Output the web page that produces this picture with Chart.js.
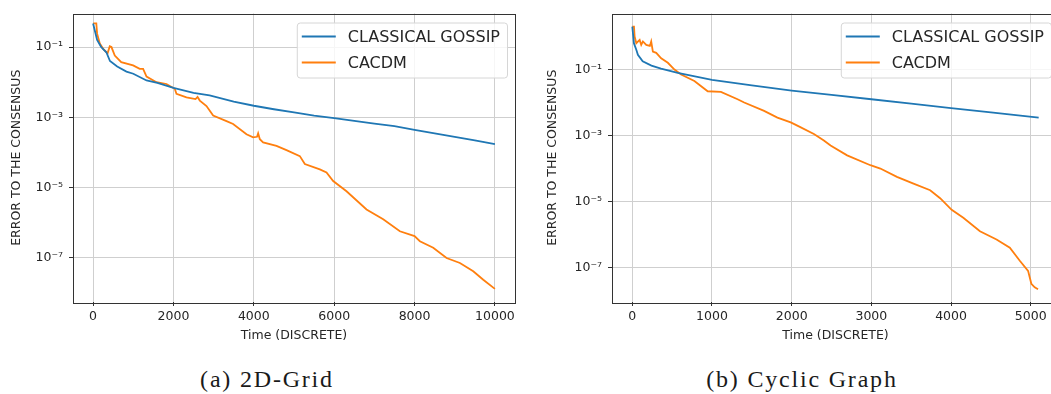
<!DOCTYPE html>
<html>
<head>
<meta charset="utf-8">
<script src="https://cdn.jsdelivr.net/npm/chart.js@4.4.1/dist/chart.umd.min.js"></script>
<style>
  body { margin: 0; width: 1051px; height: 394px; overflow: hidden; background: #fff; position: relative; }
  .panel { position: absolute; top: 0; }
  .cap { position: absolute; width: 400px; text-align: center; top: 367px; line-height: 24px;
         font-family: "Liberation Serif", serif; font-size: 24px; letter-spacing: 1.8px; color: #1a1a1a; }
</style>
</head>
<body>
<div class="panel" style="left:0;width:530px;height:345px"><canvas id="gridChart" width="530" height="345"></canvas></div>
<div class="panel" style="left:530px;width:544px;height:345px"><canvas id="cyclicChart" width="544" height="345"></canvas></div>
<div class="cap" style="left:67px">(a) 2D-Grid</div>
<div class="cap" style="left:602px">(b) Cyclic Graph</div>

<script>
// series labels
const seriesNames = ['CLASSICAL GOSSIP', 'CACDM'];
const seriesColors = ['#1f77b4', '#ff7f0e'];

// (a) 2D-Grid
const gridGossipT = [0, 100, 200, 330, 420, 600, 830, 1000, 1330, 1600, 2000, 2500, 2900, 3500, 4000, 4500, 5000, 5500, 6000, 6500, 7000, 7500, 8000, 8500, 9000, 9500, 10000];
const gridGossipErr = [4.7e-1, 1.6e-1, 1.0e-1, 7.1e-2, 4.0e-2, 2.8e-2, 2.0e-2, 1.74e-2, 1.12e-2, 9.5e-3, 6.9e-3, 5.0e-3, 4.2e-3, 2.8e-3, 2.14e-3, 1.7e-3, 1.38e-3, 1.12e-3, 9.5e-4, 7.9e-4, 6.6e-4, 5.6e-4, 4.4e-4, 3.5e-4, 2.8e-4, 2.2e-4, 1.74e-4];
const gridCacdmT = [0, 80, 100, 167, 250, 330, 360, 415, 457, 540, 700, 996, 1160, 1245, 1330, 1577, 1826, 2033, 2075, 2324, 2550, 2600, 2656, 2822, 2988, 3320, 3485, 3817, 3983, 4080, 4108, 4150, 4232, 4564, 4813, 5145, 5270, 5643, 5809, 5975, 6307, 6805, 7220, 7635, 8000, 8133, 8465, 8797, 9129, 9461, 9710, 10000];
const gridCacdmErr = [4.7e-1, 4.7e-1, 2.4e-1, 1.26e-1, 8.9e-2, 7.2e-2, 6.6e-2, 1.05e-1, 1.0e-1, 5.75e-2, 3.7e-2, 3.0e-2, 2.4e-2, 2.4e-2, 1.45e-2, 1.0e-2, 8.9e-3, 6.5e-3, 4.7e-3, 3.7e-3, 3.3e-3, 3.8e-3, 3.0e-3, 2.1e-3, 1.12e-3, 7.8e-4, 6.5e-4, 3.3e-4, 2.7e-4, 2.8e-4, 3.5e-4, 2.4e-4, 1.95e-4, 1.55e-4, 1.17e-4, 7.9e-5, 4.7e-5, 3.3e-5, 2.7e-5, 1.55e-5, 7.9e-6, 2.4e-6, 1.26e-6, 5.75e-7, 4.2e-7, 3.0e-7, 1.95e-7, 1.0e-7, 7.2e-8, 4.2e-8, 2.4e-8, 1.32e-8];

// (b) Cyclic Graph
const cyclicGossipT = [0, 20, 50, 70, 130, 240, 360, 570, 1000, 1500, 2000, 2500, 3000, 3500, 4000, 4500, 5100];
const cyclicGossipErr = [2.0, 6.3e-1, 4.0e-1, 2.8e-1, 1.78e-1, 1.32e-1, 1.07e-1, 7.9e-2, 4.9e-2, 3.3e-2, 2.3e-2, 1.7e-2, 1.26e-2, 9.3e-3, 6.8e-3, 5.0e-3, 3.5e-3];
const cyclicCacdmT = [0, 21, 29, 50, 92, 112, 133, 175, 220, 237, 258, 300, 362, 446, 529, 612, 779, 946, 1112, 1321, 1404, 1654, 1821, 1988, 2071, 2279, 2404, 2488, 2696, 2988, 3113, 3321, 3529, 3738, 3863, 4008, 4154, 4363, 4571, 4738, 4863, 4967, 5008, 5050, 5092];
const cyclicCacdmErr = [2.0, 2.0, 1.0, 6.3e-1, 7.9e-1, 5.6e-1, 7.1e-1, 5.6e-1, 5.2e-1, 7.1e-1, 3.5e-1, 3.2e-1, 2.2e-1, 1.6e-1, 1.0e-1, 7.1e-2, 4.5e-2, 2.2e-2, 2.1e-2, 1.26e-2, 1.0e-2, 5.6e-3, 3.5e-3, 2.5e-3, 2.0e-3, 1.12e-3, 7.1e-4, 5.0e-4, 2.5e-4, 1.26e-4, 1.0e-4, 5.6e-5, 3.5e-5, 2.2e-5, 1.26e-5, 5.6e-6, 3.2e-6, 1.26e-6, 7.1e-7, 4.0e-7, 1.6e-7, 7.9e-8, 3.2e-8, 2.5e-8, 2.2e-8];

// ticks
const yTicks = [1e-1, 1e-3, 1e-5, 1e-7];
const yTickLabels = ['10\u207B\u00B9', '10\u207B\u00B3', '10\u207B\u2075', '10\u207B\u2077'];
const gridXTicks = [0, 2000, 4000, 6000, 8000, 10000];
const cyclicXTicks = [0, 1000, 2000, 3000, 4000, 5000];

const FONT = '"DejaVu Sans", sans-serif';
const TEXT = '#262626';

const pts = (xs, ys) => xs.map((x, i) => ({ x: x, y: ys[i] }));

// four spines like matplotlib
const frame = {
  id: 'frame',
  afterDatasetsDraw(chart) {
    const a = chart.chartArea, ctx = chart.ctx;
    ctx.save();
    ctx.strokeStyle = '#333';
    ctx.lineWidth = 1;
    ctx.strokeRect(Math.round(a.left) + 0.5, Math.round(a.top) + 0.5, Math.round(a.right - a.left), Math.round(a.bottom - a.top));
    ctx.restore();
  }
};

// legend box in the upper right corner of the axes
const boxLegend = {
  id: 'boxLegend',
  afterDraw(chart) {
    const a = chart.chartArea, ctx = chart.ctx;
    const sets = chart.data.datasets;
    ctx.save();
    ctx.font = '16px ' + FONT;
    const tw = Math.max(...sets.map(d => ctx.measureText(d.label).width));
    const w = 5 + 34 + 12 + tw + 7, h = 55;
    const x = a.right - 8 - w, y = a.top + 9;
    ctx.beginPath();
    ctx.roundRect(x + 0.5, y + 0.5, w, h, 3);
    ctx.fillStyle = 'rgba(255,255,255,0.8)';
    ctx.fill();
    ctx.strokeStyle = '#d6d6d6';
    ctx.lineWidth = 1;
    ctx.stroke();
    sets.forEach((d, i) => {
      const cy = y + 14 + i * 26;
      ctx.strokeStyle = d.borderColor;
      ctx.lineWidth = 2;
      ctx.beginPath();
      ctx.moveTo(x + 5, cy);
      ctx.lineTo(x + 39, cy);
      ctx.stroke();
      ctx.fillStyle = TEXT;
      ctx.textBaseline = 'middle';
      ctx.fillText(d.label, x + 51, cy + 1);
    });
    ctx.restore();
  }
};

function makeChart(id, gT, gE, cT, cE, xTicks, xMin, xMax, yMin, yMax, yWidth, titlePad) {
  return new Chart(document.getElementById(id), {
    type: 'line',
    data: {
      datasets: [
        { label: seriesNames[0], data: pts(gT, gE), borderColor: seriesColors[0] },
        { label: seriesNames[1], data: pts(cT, cE), borderColor: seriesColors[1] }
      ]
    },
    options: {
      responsive: false,
      animation: false,
      events: [],
      layout: { padding: { top: 10, right: 15, left: 0, bottom: 0 } },
      elements: { point: { radius: 0 }, line: { borderWidth: 1.8, tension: 0 } },
      plugins: { legend: { display: false }, tooltip: { enabled: false } },
      scales: {
        x: {
          type: 'linear', min: xMin, max: xMax,
          afterBuildTicks: s => { s.ticks = xTicks.map(v => ({ value: v })); },
          afterFit: s => { s.height = 43; },
          grid: { color: '#cfcfcf', lineWidth: 1, drawTicks: true, tickLength: 4, tickColor: '#333' },
          border: { display: false },
          ticks: { color: TEXT, font: { family: FONT, size: 12.5 }, padding: 3, maxRotation: 0, callback: v => String(v) },
          title: { display: true, text: 'Time (DISCRETE)', color: TEXT, font: { family: FONT, size: 12.5 }, padding: { top: 0, bottom: 2 } }
        },
        y: {
          type: 'logarithmic', min: yMin, max: yMax,
          afterBuildTicks: s => { s.ticks = yTicks.map(v => ({ value: v })); },
          afterFit: s => { s.width = yWidth; },
          grid: { color: '#cfcfcf', lineWidth: 1, drawTicks: true, tickLength: 4, tickColor: '#333' },
          border: { display: false },
          ticks: { color: TEXT, font: { family: FONT, size: 12.5 }, padding: 6, callback: (v, i) => yTickLabels[i] },
          title: { display: true, text: 'ERROR TO THE CONSENSUS', color: TEXT, font: { family: FONT, size: 12.5 }, padding: { top: titlePad, bottom: 0 } }
        }
      }
    },
    plugins: [frame, boxLegend]
  });
}

makeChart('gridChart', gridGossipT, gridGossipErr, gridCacdmT, gridCacdmErr, gridXTicks, -500, 10500, 5.6e-9, 0.9, 73, 9);
makeChart('cyclicChart', cyclicGossipT, cyclicGossipErr, cyclicCacdmT, cyclicCacdmErr, cyclicXTicks, -255, 5355, 9.1e-9, 5.0, 82, 15);
</script>
</body>
</html>
